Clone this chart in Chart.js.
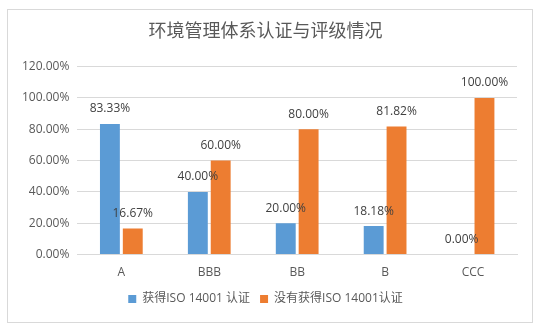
<!DOCTYPE html>
<html>
<head>
<meta charset="utf-8">
<script src="https://cdn.jsdelivr.net/npm/chart.js@4"></script>
<style>
  html, body { margin: 0; padding: 0; background: #fff; }
  #wrap { width: 539px; height: 329px; position: relative; }
</style>
</head>
<body>
<div id="wrap"><canvas id="c" width="539" height="329"></canvas></div>
<script>
const titleText = '环境管理体系认证与评级情况';
const grades = ['A', 'BBB', 'BB', 'B', 'CCC'];
const withIso = [83.33, 40.00, 20.00, 18.18, 0.00];
const withoutIso = [16.67, 60.00, 80.00, 81.82, 100.00];
const seriesNames = ['获得ISO 14001 认证', '没有获得ISO 14001认证'];

const FONT = "'Open Sans', 'Noto Sans CJK SC', sans-serif";
const GREY = '#595959';

// outer frame like the office chart border
const frame = {
  id: 'frame',
  beforeDraw(c) {
    const g = c.ctx;
    g.save();
    g.fillStyle = '#fff';
    g.fillRect(0, 0, c.width, c.height);
    g.strokeStyle = '#d9d9d9';
    g.lineWidth = 1;
    g.strokeRect(7.5, 9.5, 525, 313);
    g.restore();
  }
};

// value labels above each bar
const valLabels = {
  id: 'valLabels',
  afterDatasetsDraw(c) {
    const g = c.ctx;
    g.save();
    g.font = '12px ' + FONT;
    g.fillStyle = '#404040';
    g.textAlign = 'center';
    g.textBaseline = 'bottom';
    c.data.datasets.forEach((ds, i) => {
      c.getDatasetMeta(i).data.forEach((bar, j) => {
        g.fillText(ds.data[j].toFixed(2) + '%', bar.x, bar.y - 9);
      });
    });
    g.restore();
  }
};

new Chart(document.getElementById('c'), {
  type: 'bar',
  data: {
    labels: grades,
    datasets: [
      { label: seriesNames[0], data: withIso, backgroundColor: '#5b9bd5' },
      { label: seriesNames[1], data: withoutIso, backgroundColor: '#ed7d31' }
    ]
  },
  options: {
    responsive: false,
    animation: false,
    devicePixelRatio: 1,
    categoryPercentage: 0.52,
    barPercentage: 0.87,
    layout: { padding: { left: 14, right: 22, top: 12, bottom: 14 } },
    plugins: {
      title: {
        display: true, text: titleText, color: GREY,
        font: { family: FONT, size: 18, weight: 'normal' },
        padding: { top: 9, bottom: 24 }
      },
      legend: {
        position: 'bottom',
        labels: {
          color: GREY, font: { family: FONT, size: 12 },
          boxWidth: 8, boxHeight: 8, padding: 10
        }
      },
      tooltip: { enabled: false }
    },
    scales: {
      x: {
        grid: { display: false },
        border: { color: '#d9d9d9' },
        ticks: { color: GREY, font: { family: FONT, size: 12 } }
      },
      y: {
        min: 0, max: 120,
        ticks: {
          stepSize: 20, color: GREY, padding: 8,
          font: { family: FONT, size: 12 },
          callback: v => v.toFixed(2) + '%'
        },
        grid: { color: '#d9d9d9', drawTicks: false },
        border: { display: false }
      }
    }
  },
  plugins: [frame, valLabels]
});
</script>
</body>
</html>
